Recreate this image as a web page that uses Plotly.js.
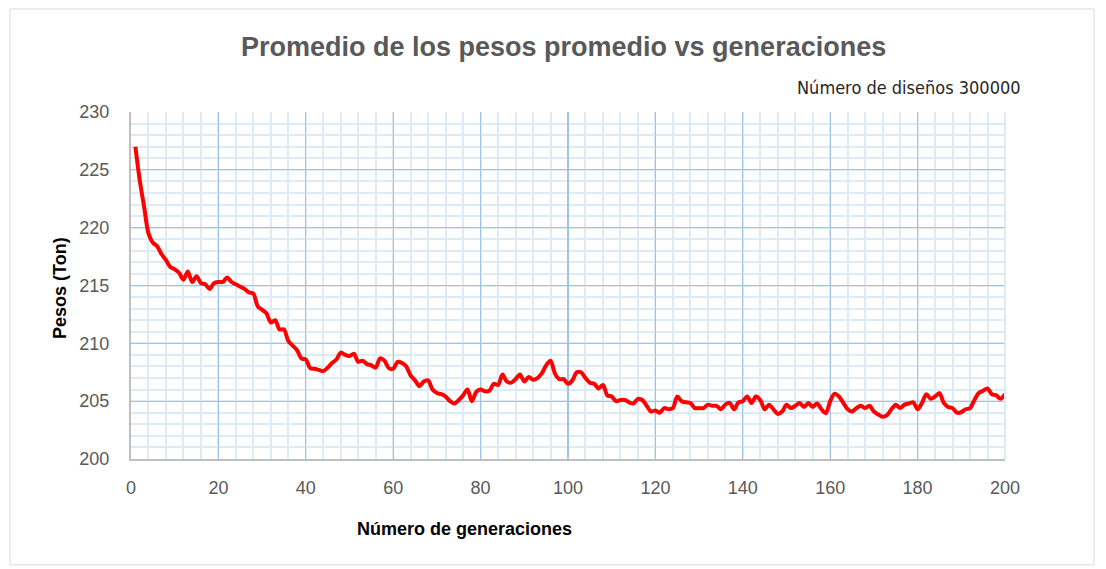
<!DOCTYPE html>
<html>
<head>
<meta charset="utf-8">
<script src="https://cdn.plot.ly/plotly-3.0.1.min.js"></script>
<style>html,body{margin:0;padding:0;background:#fff;}#chart{width:1106px;height:569px;}</style>
</head>
<body>
<div id="chart"></div>
<script>
const generations = Array.from({length: 200}, (_, i) => i + 1);
const pesos = [
  227.0, 224.1, 221.8, 219.5, 218.7, 218.4, 217.7, 217.2, 216.6, 216.4,
  216.1, 215.5, 216.2, 215.3, 215.8, 215.2, 215.1, 214.7, 215.2, 215.3,
  215.3, 215.7, 215.3, 215.1, 214.9, 214.7, 214.4, 214.3, 213.2, 212.9,
  212.6, 211.8, 212.0, 211.2, 211.2, 210.2, 209.8, 209.4, 208.7, 208.6,
  207.85, 207.8, 207.7, 207.6, 207.9, 208.3, 208.6, 209.2, 209.0, 208.9,
  209.1, 208.4, 208.5, 208.2, 208.1, 207.9, 208.7, 208.5, 207.85, 207.8,
  208.4, 208.3, 208.0, 207.2, 206.8, 206.3, 206.7, 206.8, 206.0, 205.7,
  205.6, 205.4, 205.0, 204.8, 205.1, 205.5, 206.0, 205.0, 205.8, 206.0,
  205.85, 205.9, 206.5, 206.4, 207.3, 206.7, 206.6, 206.9, 207.3, 206.7,
  207.1, 206.85, 207.0, 207.4, 208.1, 208.5, 207.4, 206.9, 206.9, 206.5,
  206.8, 207.5, 207.5, 207.0, 206.6, 206.5, 206.1, 206.4, 205.5, 205.4,
  205.0, 205.1, 205.1, 204.9, 204.8, 205.2, 205.1, 204.6, 204.1, 204.2,
  204.0, 204.4, 204.3, 204.4, 205.4, 205.0, 204.9, 204.85, 204.4, 204.4,
  204.4, 204.7, 204.6, 204.6, 204.3, 204.7, 204.85, 204.3, 204.9, 205.0,
  205.4, 204.85, 205.4, 205.1, 204.3, 204.7, 204.3, 203.9, 204.1, 204.7,
  204.4, 204.6, 204.85, 204.5, 204.85, 204.5, 204.8, 204.3, 203.95, 205.0,
  205.65, 205.4, 204.85, 204.3, 204.1, 204.4, 204.6, 204.4, 204.6, 204.1,
  203.85, 203.65, 203.8, 204.3, 204.7, 204.4, 204.7, 204.8, 204.9, 204.3,
  204.85, 205.6, 205.2, 205.4, 205.7, 204.85, 204.5, 204.4, 204.0, 204.05,
  204.3, 204.4, 205.1, 205.7, 205.9, 206.1, 205.6, 205.5, 205.2, 205.6
];
const xTickVals = [0, 20, 40, 60, 80, 100, 120, 140, 160, 180, 200];
const yTickVals = [200, 205, 210, 215, 220, 225, 230];
const chartTitle = 'Promedio de los pesos promedio vs generaciones';
const subTitle = 'Número de diseños 300000';
const xTitle = 'Número de generaciones';
const yTitle = 'Pesos (Ton)';

const trace = {
  x: generations, y: pesos, type: 'scatter', mode: 'lines',
  line: {color: '#FF0000', width: 4, shape: 'spline', smoothing: 0.8},
  hoverinfo: 'x+y'
};

const tickFont = {family: 'Liberation Sans, Arial, sans-serif', size: 18, color: '#595959'};

const layout = {
  width: 1106, height: 569,
  margin: {l: 131, r: 101, t: 112, b: 110},
  paper_bgcolor: '#ffffff', plot_bgcolor: '#ffffff',
  showlegend: false,
  xaxis: {
    range: [0, 200], tickvals: xTickVals, ticktext: xTickVals.map(String),
    showgrid: true, gridcolor: '#9DC3E6', gridwidth: 1.3,
    minor: {dtick: 4, tick0: 0, showgrid: true, gridcolor: '#DDEBF7', gridwidth: 2},
    showline: true, linecolor: '#BFBFBF', linewidth: 2, mirror: false,
    zeroline: false, ticks: '', tickfont: tickFont, ticklabelstandoff: 11
  },
  yaxis: {
    range: [200, 230], tickvals: yTickVals, ticktext: yTickVals.map(String),
    showgrid: true, gridcolor: '#9DC3E6', gridwidth: 1.3,
    minor: {dtick: 1, tick0: 200, showgrid: true, gridcolor: '#DDEBF7', gridwidth: 2},
    showline: true, linecolor: '#BFBFBF', linewidth: 2,
    zeroline: false, ticks: '', tickfont: tickFont, ticklabelstandoff: 16
  },
  shapes: [
    {type: 'line', xref: 'paper', yref: 'paper', x0: 1, x1: 1, y0: 0, y1: 1,
     line: {color: '#DDEBF7', width: 2}},
    {type: 'rect', xref: 'paper', yref: 'paper', x0: -0.1384, x1: 1.1018, y0: -0.305, y1: 1.297,
     line: {color: '#D9D9D9', width: 1}, fillcolor: 'rgba(0,0,0,0)', layer: 'below'}
  ],
  annotations: [
    {text: '<b>' + chartTitle + '</b>', xref: 'paper', yref: 'paper',
     x: (563 - 131) / 874, y: (459 - 47) / 347, xanchor: 'center', yanchor: 'middle',
     showarrow: false, font: {family: 'Liberation Sans, Arial, sans-serif', size: 27, color: '#595959'}},
    {text: subTitle, xref: 'paper', yref: 'paper',
     x: (1023 - 131) / 874, y: (459 - 87) / 347, xanchor: 'right', yanchor: 'middle',
     showarrow: false, font: {family: 'DejaVu Sans Condensed, Liberation Sans Narrow, sans-serif', size: 18, color: '#262626'}},
    {text: '<b>' + xTitle + '</b>', xref: 'paper', yref: 'paper',
     x: (464 - 131) / 874, y: (459 - 529) / 347, xanchor: 'center', yanchor: 'middle',
     showarrow: false, font: {family: 'Liberation Sans, Arial, sans-serif', size: 18, color: '#000000'}},
    {text: '<b>' + yTitle + '</b>', xref: 'paper', yref: 'paper', textangle: -90,
     x: (60 - 131) / 874, y: (459 - 288) / 347, xanchor: 'center', yanchor: 'middle',
     showarrow: false, font: {family: 'Liberation Sans, Arial, sans-serif', size: 18, color: '#000000'}}
  ]
};

Plotly.newPlot('chart', [trace], layout, {displayModeBar: false, staticPlot: true});
</script>
</body>
</html>
